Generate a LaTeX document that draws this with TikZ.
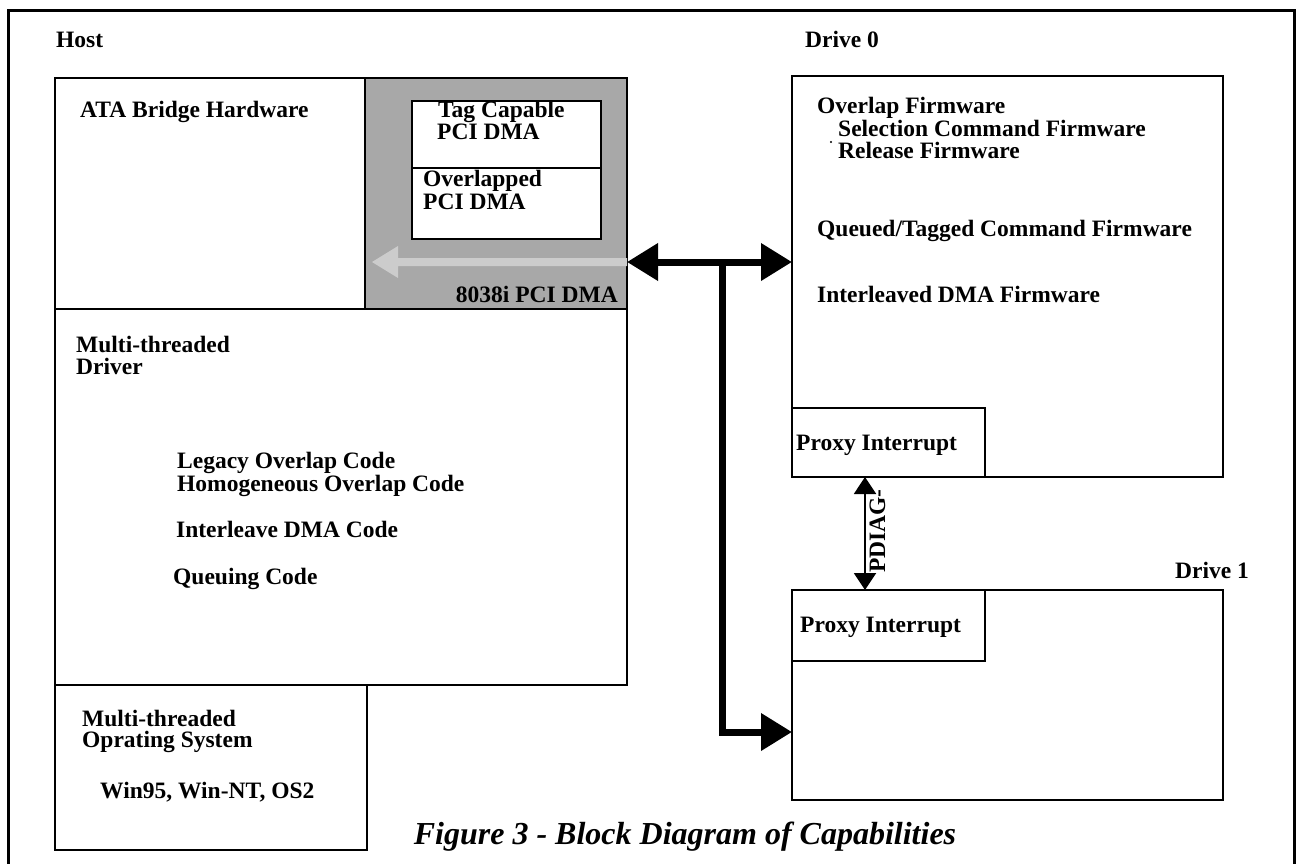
\documentclass[tikz,border=0pt]{standalone}
\usepackage{fontspec}
\setmainfont{Liberation Serif}
\usetikzlibrary{arrows.meta}

\begin{document}
\begin{tikzpicture}[x=1pt,y=-1pt,
  box/.style={draw=black, line width=2pt, inner sep=0pt, outer sep=0pt, anchor=north west},
  lbl/.style={anchor=base west, inner sep=0pt, font=\fontsize{23.5}{24}\selectfont\bfseries},
  bus/.style={line width=7pt, line join=miter},
  bighead/.tip={Triangle[length=31pt,width=36pt]},
  smallhead/.tip={Triangle[length=17pt,width=22pt]}
]
\useasboundingbox (0,0) rectangle (1296,863);
\fill[white] (0,0) rectangle (1296,863);

% outer frame
\draw[line width=3pt] (8,10) rectangle (1294,900);

% host side
\node[box, fill=black!34, minimum width=262pt, minimum height=231pt] (shade) at (365,78) {};
\fill[black!20] (372,262) -- (398,246) -- (398,258) -- (627,258) -- (627,266)
  -- (398,266) -- (398,278) -- cycle;
\node[box, minimum width=310pt, minimum height=231pt] (ata) at (55,78) {};
\node[box, fill=white, minimum width=189pt, minimum height=67pt] (tag) at (412,101) {};
\node[box, fill=white, minimum width=189pt, minimum height=71pt] (ovl) at (412,168) {};
\node[box, minimum width=572pt, minimum height=376pt] (drv) at (55,309) {};
\node[box, minimum width=312pt, minimum height=165pt] (os) at (55,685) {};

% drives
\node[box, minimum width=431pt, minimum height=401pt] (d0) at (792,76) {};
\node[box, minimum width=193pt, minimum height=69pt] (px0) at (792,408) {};
\node[box, minimum width=431pt, minimum height=210pt] (d1) at (792,590) {};
\node[box, minimum width=193pt, minimum height=71pt] (px1) at (792,590) {};

% labels
\node[lbl] (lhost) at (56,47) {Host};
\node[lbl] (ld0) at (805,47) {Drive 0};
\node[lbl] (ld1) at (1175,578) {Drive 1};
\node[lbl] (lata) at (80,117) {ATA Bridge Hardware};
\node[lbl] (ltag1) at (438,117) {Tag Capable};
\node[lbl] (ltag2) at (437,139) {PCI DMA};
\node[lbl] (lovl1) at (423,186) {Overlapped};
\node[lbl] (lovl2) at (423,209) {PCI DMA};
\node[lbl, anchor=base east] (l8038) at (618,302) {8038i PCI DMA};
\node[lbl] (ldrv1) at (76,352) {Multi-threaded};
\node[lbl] (ldrv2) at (76,374) {Driver};
\node[lbl] (lleg) at (177,468) {Legacy Overlap Code};
\node[lbl] (lhom) at (177,491) {Homogeneous Overlap Code};
\node[lbl] (lint) at (176,537) {Interleave DMA Code};
\node[lbl] (lque) at (173,584) {Queuing Code};
\node[lbl] (los1) at (82,726) {Multi-threaded};
\node[lbl] (los2) at (82,747) {Oprating System};
\node[lbl] (los3) at (100,798) {Win95, Win-NT, OS2};
\node[lbl] (lfw1) at (817,113) {Overlap Firmware};
\node[lbl] (lfw2) at (838,136) {Selection Command Firmware};
\node[lbl] (lfw3) at (838,158) {Release Firmware};
\fill (831,142) circle (1.2pt);
\node[lbl] (lfw4) at (817,236) {Queued/Tagged Command Firmware};
\node[lbl] (lfw5) at (817,302) {Interleaved DMA Firmware};
\node[lbl] (lpx0) at (796,450) {Proxy Interrupt};
\node[lbl] (lpx1) at (800,632) {Proxy Interrupt};

% bus between host and drives
\coordinate (tap) at (722,262);
\coordinate (bend) at (722,732);
\draw[bus, {bighead}-{bighead}] (shade.east |- tap) -- (d0.west |- tap);
\draw[bus, -{bighead}] (tap) -- (bend) -- (d1.west |- bend);

% PDIAG- signal
\coordinate (pd) at (865,0);
\draw[line width=2pt, {smallhead}-{smallhead}] (pd |- px0.south) -- (pd |- px1.north);
\node[rotate=90, anchor=base, inner sep=0pt, font=\fontsize{23.5}{24}\selectfont\bfseries] (lpd) at (885,531) {PDIAG-};

% caption
\node[anchor=base, inner sep=0pt, font=\fontsize{32}{34}\selectfont\bfseries\itshape] (cap) at (685,844) {Figure 3 - Block Diagram of Capabilities};
\end{tikzpicture}
\end{document}
